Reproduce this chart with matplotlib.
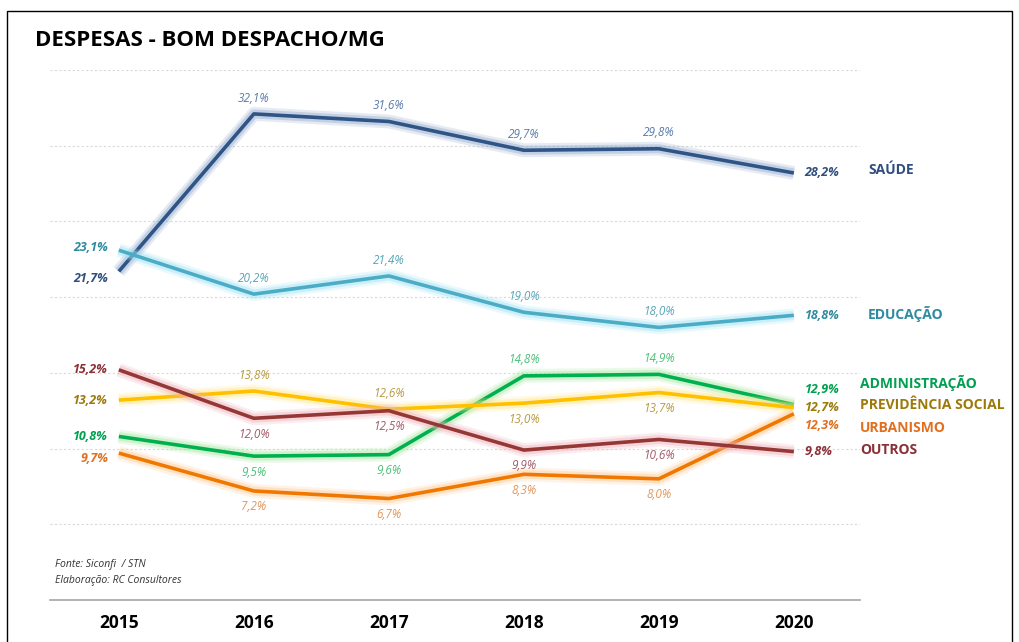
import matplotlib
matplotlib.use("Agg")
import matplotlib.pyplot as plt
import matplotlib.patheffects as pe
from matplotlib.patches import Rectangle

plt.rcParams['font.family'] = ['Open Sans', 'DejaVu Sans']

years = [2015, 2016, 2017, 2018, 2019, 2020]

saude = [21.7, 32.1, 31.6, 29.7, 29.8, 28.2]
educacao = [23.1, 20.2, 21.4, 19.0, 18.0, 18.8]
administracao = [10.8, 9.5, 9.6, 14.8, 14.9, 12.9]
previdencia = [13.2, 13.8, 12.6, 13.0, 13.7, 12.7]
urbanismo = [9.7, 7.2, 6.7, 8.3, 8.0, 12.3]
outros = [15.2, 12.0, 12.5, 9.9, 10.6, 9.8]

names = ["SAÚDE", "EDUCAÇÃO", "ADMINISTRAÇÃO", "PREVIDÊNCIA SOCIAL", "URBANISMO", "OUTROS"]

# (values, line colour, glow colour, label colour, small label colour,
#  middle label side (+ above / - below), first label dy, last label dy, name y, name x shift)
series = [
    (saude, '#2F5486', '#8FA8CC', '#2F4F7F', '#5A7AA8', [+1, +1, +1, +1], -0.5, 0, 28.4, 0.06),
    (educacao, '#4BACC6', '#9FE3F2', '#2E8BA0', '#5AA5B8', [+1, +1, +1, +1], +0.2, 0, 18.9, 0.06),
    (administracao, '#00B050', '#A6E8A0', '#00A050', '#4CC07A', [-1, -1, +1, +1], 0, +1.0, 14.3, 0),
    (previdencia, '#FFC000', '#FFE58A', '#9C7A0A', '#B89A40', [+1, +1, -1, -1], 0, 0, 12.85, 0),
    (urbanismo, '#F07800', '#FFC890', '#E07020', '#E0955A', [-1, -1, -1, -1], -0.35, -0.8, 11.35, 0),
    (outros, '#953735', '#F0B0B8', '#8A3036', '#A05A6A', [-1, -1, -1, -1], 0, 0, 9.9, 0),
]

fig = plt.figure(figsize=(10.19, 6.42), dpi=100)
ax = fig.add_axes([50 / 1019, 42 / 642, 810 / 1019, 530 / 642])
ax.set_xlim(2014.49, 2020.49)
ax.set_ylim(0, 35)

for y in [5, 10, 15, 20, 25, 30, 35]:
    ax.axhline(y, color='#D9D9D9', lw=0.8, ls=(0, (2, 2)), zorder=0)

for s, name in zip(series, names):
    vals, col, glow, lab, small, offs, dy0, dy1, ny, nx = s
    ax.plot(years, vals, color=col, lw=2.6, solid_capstyle='butt', zorder=3,
            path_effects=[pe.Stroke(linewidth=10, foreground=glow, alpha=0.22),
                          pe.Stroke(linewidth=6.5, foreground=glow, alpha=0.4),
                          pe.Normal()])
    # first and last labels
    ax.text(2015 - 0.08, vals[0] + dy0, f"{vals[0]:.1f}%".replace('.', ','),
            ha='right', va='center', fontsize=9, fontweight='bold', style='italic', color=lab)
    ax.text(2020 + 0.08, vals[-1] + dy1, f"{vals[-1]:.1f}%".replace('.', ','),
            ha='left', va='center', fontsize=9, fontweight='bold', style='italic', color=lab)
    for x, v, o in zip(years[1:-1], vals[1:-1], offs):
        ax.text(x, v + o * 1.05, f"{v:.1f}%".replace('.', ','), ha='center', va='center',
                fontsize=8.5, style='italic', color=small)
    ax.text(2020.49 + nx, ny, name, ha='left', va='center', fontsize=10, fontweight='bold',
            color=lab, clip_on=False)

ax.set_xticks(years)
ax.set_xticklabels([str(y) for y in years], fontsize=12.5, fontweight='bold')
ax.tick_params(axis='x', length=0, pad=10)
ax.set_yticks([])
for sp in ['top', 'right', 'left']:
    ax.spines[sp].set_visible(False)
ax.spines['bottom'].set_color('#A6A6A6')
ax.spines['bottom'].set_linewidth(1.2)

fig.text(35 / 1019, 1 - 40 / 642, "DESPESAS - BOM DESPACHO/MG", fontsize=16,
         fontweight='bold', va='center', ha='left')
fig.text(55 / 1019, 1 - 565 / 642, "Fonte: Siconfi  / STN", fontsize=7.5, style='italic',
         va='center', color='#333333')
fig.text(55 / 1019, 1 - 580 / 642, "Elaboração: RC Consultores", fontsize=7.5, style='italic',
         va='center', color='#333333')

fig.patches.append(Rectangle((7 / 1019, -0.05), 1005 / 1019, 1.05 - 11 / 642,
                             transform=fig.transFigure, fill=False, ec='black', lw=1))

fig.savefig("out.png", dpi=100)
